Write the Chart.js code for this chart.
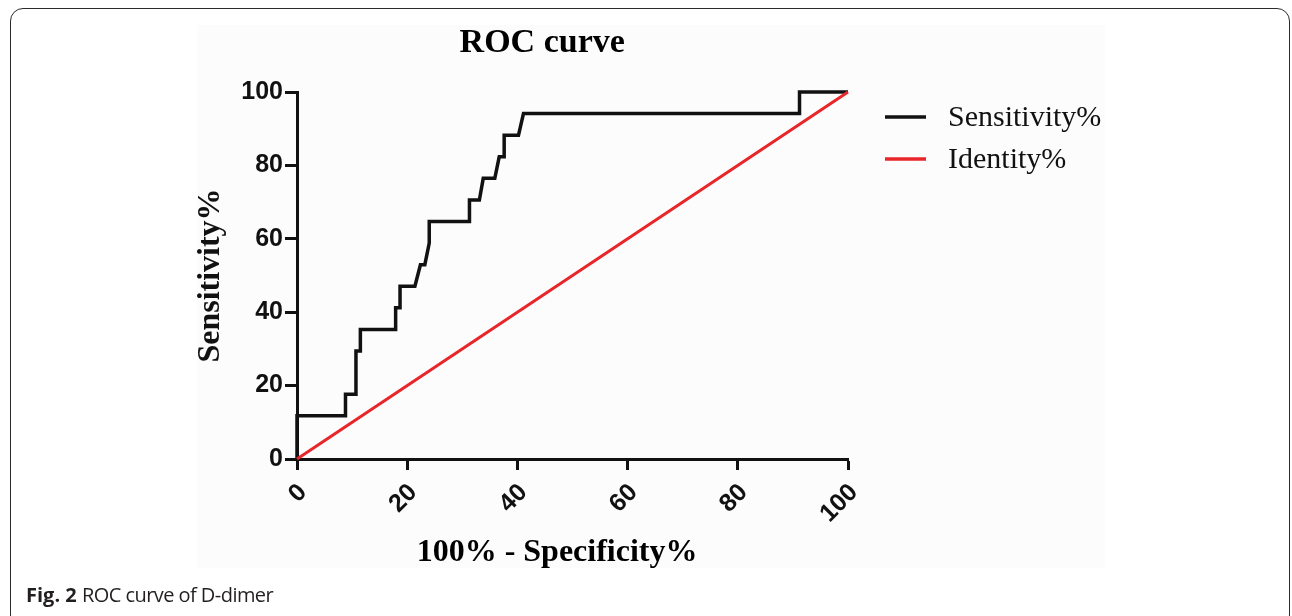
<!DOCTYPE html>
<html>
<head>
<meta charset="utf-8">
<script src="https://cdn.jsdelivr.net/npm/chart.js@4/dist/chart.umd.min.js"></script>
<style>
  html, body { margin: 0; padding: 0; background: #ffffff; }
  body { width: 1292px; height: 616px; position: relative; overflow: hidden; }
  #frame { position: absolute; left: 10px; top: 8px; width: 1280px; height: 620px;
           border: 1.6px solid #2b2b2b; border-radius: 13px; box-sizing: border-box; }
  #figbg { position: absolute; left: 197px; top: 25px; width: 908px; height: 543px; background: #fdfcfc; }
  #wrap { position: absolute; left: 0; top: 0; width: 1292px; height: 616px; }
  #caption { position: absolute; left: 26px; top: 583px; font-family: "Open Sans", sans-serif;
             font-size: 20px; color: #231f20; white-space: nowrap; line-height: 24px; }
  #caption b { font-weight: 700; }
  #caption span { letter-spacing: -0.55px; }
</style>
</head>
<body>
<div id="frame"></div>
<div id="figbg"></div>
<div id="wrap"><canvas id="c" width="1292" height="616"></canvas></div>
<div id="caption"><b>Fig. 2</b> <span>ROC curve of D-dimer</span></div>
<script>
// ---- data ----
const chartTitle = "ROC curve";
const xAxisTitle = "100% - Specificity%";
const yAxisTitle = "Sensitivity%";
const seriesNames = ["Sensitivity%", "Identity%"];
const tickValues = [0, 20, 40, 60, 80, 100];

// 100% - Specificity% (x) and Sensitivity% (y) of the ROC curve
const rocFpr = [0, 0, 8.8, 8.8, 10.7, 10.7, 11.5, 11.5, 17.9, 17.9, 18.7, 18.7, 21.4, 22.4, 23.2, 24.0, 24.0, 31.3, 31.3, 33.1, 33.8, 35.9, 36.7, 37.6, 37.6, 40.2, 41.1, 91.2, 91.2, 100];
const rocTpr = [0, 11.76, 11.76, 17.65, 17.65, 29.41, 29.41, 35.29, 35.29, 41.18, 41.18, 47.06, 47.06, 52.94, 52.94, 58.82, 64.71, 64.71, 70.59, 70.59, 76.47, 76.47, 82.35, 82.35, 88.24, 88.24, 94.12, 94.12, 100, 100];

// identity line
const identityX = [0, 100];
const identityY = [0, 100];

const toPoints = (xs, ys) => xs.map((x, i) => ({ x: x, y: ys[i] }));

const tickFont = { family: "'Liberation Sans', Arial, sans-serif", size: 25, weight: 'bold' };
const serifBold = "bold 32px 'Liberation Serif', 'Times New Roman', serif";

const extraText = {
  id: 'extraText',
  afterDraw(chart) {
    const ctx = chart.ctx;
    const area = chart.chartArea;
    ctx.save();
    ctx.fillStyle = '#000';
    // chart title
    ctx.font = "bold 34px 'Liberation Serif', 'Times New Roman', serif";
    ctx.textAlign = 'center';
    ctx.textBaseline = 'alphabetic';
    ctx.fillText(chartTitle, area.left + (area.right - area.left) * 0.445, 52);
    // x axis title
    ctx.font = serifBold;
    ctx.fillText(xAxisTitle, area.left + (area.right - area.left) * 0.472, 561);
    // legend
    const ds = chart.data.datasets;
    ctx.font = "30px 'Liberation Serif', 'Times New Roman', serif";
    ctx.textAlign = 'left';
    ctx.textBaseline = 'middle';
    ds.forEach((d, i) => {
      const y = 117 + i * 42;
      ctx.strokeStyle = d.borderColor;
      ctx.lineWidth = 3.5;
      ctx.beginPath();
      ctx.moveTo(885, y);
      ctx.lineTo(926, y);
      ctx.stroke();
      ctx.fillStyle = '#111';
      ctx.fillText(d.label, 948, y + 1);
    });
    ctx.restore();
  }
};

new Chart(document.getElementById('c'), {
  type: 'scatter',
  data: {
    datasets: [
      {
        label: seriesNames[0],
        data: toPoints(rocFpr, rocTpr),
        showLine: true,
        borderColor: '#111111',
        backgroundColor: '#111111',
        borderWidth: 3.5,
        pointRadius: 0,
        tension: 0,
        clip: false,
        order: 1
      },
      {
        label: seriesNames[1],
        data: toPoints(identityX, identityY),
        showLine: true,
        borderColor: '#e8262a',
        backgroundColor: '#e8262a',
        borderWidth: 3,
        pointRadius: 0,
        tension: 0,
        clip: false,
        order: 0
      }
    ]
  },
  options: {
    responsive: false,
    animation: false,
    events: [],
    layout: { padding: { left: 190, right: 444, top: 92, bottom: 40 } },
    plugins: {
      legend: { display: false },
      title: { display: false },
      tooltip: { enabled: false }
    },
    scales: {
      x: {
        type: 'linear',
        min: 0, max: 100,
        afterBuildTicks: (s) => { s.ticks = tickValues.map(v => ({ value: v })); },
        afterFit: (s) => { s.height = 616 - 40 - 459; },
        ticks: {
          font: tickFont, color: '#111', minRotation: 45, maxRotation: 45,
          padding: 8, labelOffset: 6, autoSkip: false
        },
        grid: { display: true, drawOnChartArea: false, drawTicks: true, tickLength: 11, tickWidth: 3, tickColor: '#111' },
        border: { display: true, color: '#111', width: 3 }
      },
      y: {
        type: 'linear',
        min: 0, max: 100,
        afterBuildTicks: (s) => { s.ticks = tickValues.map(v => ({ value: v })); },
        afterFit: (s) => { s.width = 297 - 190; },
        ticks: { font: tickFont, color: '#111', padding: 2, autoSkip: false },
        grid: { display: true, drawOnChartArea: false, drawTicks: true, tickLength: 12, tickWidth: 3, tickColor: '#111' },
        border: { display: true, color: '#111', width: 3 },
        title: {
          display: true, text: yAxisTitle, color: '#111',
          font: { family: "'Liberation Serif', 'Times New Roman', serif", size: 32, weight: 'bold' },
          padding: { top: 2, bottom: 0 }
        }
      }
    }
  },
  plugins: [extraText]
});
</script>
</body>
</html>
